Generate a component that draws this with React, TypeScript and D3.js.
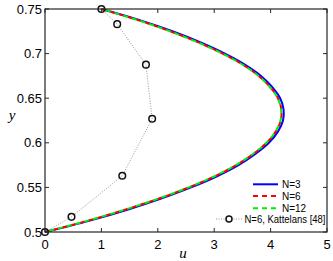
import React from "react";
import * as d3 from "d3";

const yVals = [0.5, 0.5125, 0.525, 0.5375, 0.55, 0.5625, 0.575, 0.5875, 0.6, 0.6125, 0.625, 0.6375, 0.65, 0.6625, 0.675, 0.6875, 0.7, 0.7125, 0.725, 0.7375, 0.75];
const uN3 = [0, 0.78, 1.46, 2.06, 2.59, 3.05, 3.43, 3.73, 3.97, 4.13, 4.22, 4.23, 4.17, 4.03, 3.83, 3.55, 3.19, 2.76, 2.26, 1.68, 1.0];
const uN6 = [0, 0.75, 1.42, 2.02, 2.55, 3.01, 3.39, 3.69, 3.93, 4.09, 4.18, 4.19, 4.13, 3.99, 3.79, 3.51, 3.15, 2.72, 2.22, 1.65, 1.0];
const uN12 = [0, 0.745, 1.415, 2.015, 2.545, 3.005, 3.385, 3.685, 3.925, 4.085, 4.175, 4.185, 4.125, 3.985, 3.785, 3.505, 3.145, 2.715, 2.215, 1.645, 1.0];
const kY = [0.5, 0.517, 0.563, 0.627, 0.6876, 0.733, 0.75];
const kU = [0, 0.47, 1.37, 1.9, 1.79, 1.28, 1.0];
const xTicks = [0, 1, 2, 3, 4, 5];
const yTicks = [0.5, 0.55, 0.6, 0.65, 0.7, 0.75];
const legendLabels = ["N=3", "N=6", "N=12", "N=6, Kattelans [48]"];

export default function App() {
  const W = 333, H = 261;
  const L = 45, R = 327, T = 9, B = 232;
  const x = d3.scaleLinear().domain([0, 5]).range([L, R]);
  const y = d3.scaleLinear().domain([0.5, 0.75]).range([B, T]);
  const line = (us: number[], ys: number[], curve = true) =>
    d3.line<number>().x((d, i) => x(us[i])).y((d, i) => y(ys[i])).curve(curve ? d3.curveCatmullRom : d3.curveLinear)(ys) || "";
  const tickFont = "Liberation Sans, Arial, sans-serif";
  const kPts = kY.map((v, i) => [kU[i], v]);
  return (
    <svg width={W} height={H} style={{ position: "absolute", left: 0, top: 0, background: "#fff" }}>
      <rect x={0} y={0} width={W} height={H} fill="#fff" />
      <path d={line(uN3, yVals)} fill="none" stroke="#0000ff" strokeWidth={2} />
      <path d={line(uN6, yVals)} fill="none" stroke="#ff0000" strokeWidth={2} strokeDasharray="5,4" />
      <path d={line(uN12, yVals)} fill="none" stroke="#00ee00" strokeWidth={2} strokeDasharray="5,4" strokeDashoffset={4.5} />
      <path d={line(kU, kY, false)} fill="none" stroke="#999" strokeWidth={1} strokeDasharray="1,1.5" />
      {kPts.map((p, i) => (
        <circle key={i} cx={x(p[0])} cy={y(p[1])} r={3.3} fill="none" stroke="#111" strokeWidth={1.5} />
      ))}
      <rect x={L} y={T} width={R - L} height={B - T} fill="none" stroke="#262626" strokeWidth={1.2} />
      {xTicks.map((t) => (
        <g key={"x" + t}>
          <line x1={x(t)} x2={x(t)} y1={B} y2={B - 4} stroke="#262626" />
          <line x1={x(t)} x2={x(t)} y1={T} y2={T + 4} stroke="#262626" />
          <text x={x(t)} y={249} textAnchor="middle" fontFamily={tickFont} fontSize={13} fill="#000">{t}</text>
        </g>
      ))}
      {yTicks.map((t) => (
        <g key={"y" + t}>
          <line x1={L} x2={L + 4} y1={y(t)} y2={y(t)} stroke="#262626" />
          <line x1={R} x2={R - 4} y1={y(t)} y2={y(t)} stroke="#262626" />
          <text x={42} y={y(t) + 4.5} textAnchor="end" fontFamily={tickFont} fontSize={13} fill="#000">{t === 0.5 ? "0.5" : d3.format(".2~f")(t)}</text>
        </g>
      ))}
      <text x={183} y={258} textAnchor="middle" fontFamily="Liberation Serif, serif" fontStyle="italic" fontSize={15}>u</text>
      <text x={12} y={120} textAnchor="middle" fontFamily="Liberation Serif, serif" fontStyle="italic" fontSize={15}>y</text>
      <g fontFamily="Liberation Sans, Arial, sans-serif" fontSize={10} fill="#000">
        <line x1={253} x2={278} y1={184.3} y2={184.3} stroke="#0000ff" strokeWidth={2} />
        <text x={282} y={188}>{legendLabels[0]}</text>
        <line x1={253} x2={278} y1={196} y2={196} stroke="#ff0000" strokeWidth={2} strokeDasharray="5,4" />
        <text x={282} y={199.7}>{legendLabels[1]}</text>
        <line x1={253} x2={278} y1={208.3} y2={208.3} stroke="#00ee00" strokeWidth={2} strokeDasharray="5,4" />
        <text x={282} y={212}>{legendLabels[2]}</text>
        <line x1={216} x2={242} y1={219} y2={219} stroke="#999" strokeWidth={1} strokeDasharray="1,1.5" />
        <circle cx={229} cy={219} r={3} fill="#fff" stroke="#111" strokeWidth={1.5} />
        <text x={244.5} y={222.7} textLength={81} lengthAdjust="spacingAndGlyphs">{legendLabels[3]}</text>
      </g>
    </svg>
  );
}
